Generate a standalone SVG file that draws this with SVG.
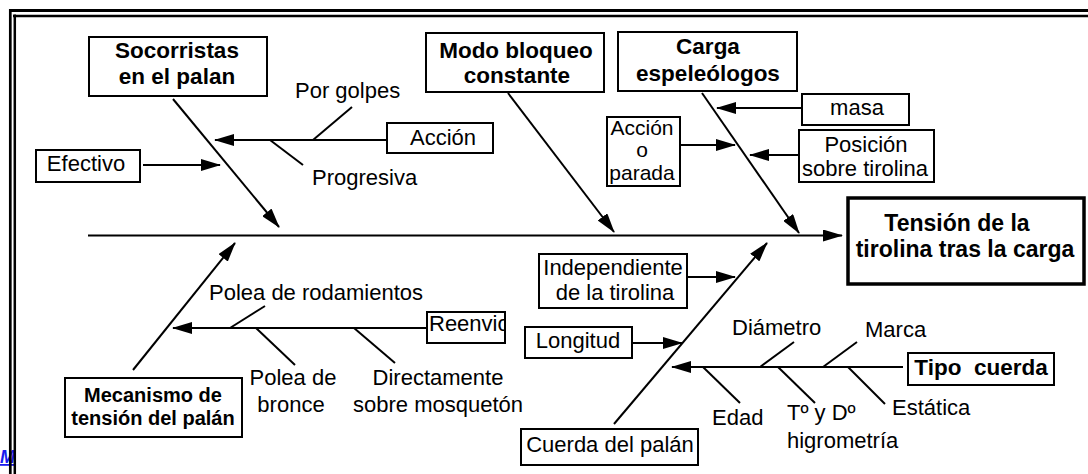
<svg xmlns="http://www.w3.org/2000/svg" width="1088" height="474" viewBox="0 0 1088 474">
<style>
text{font-family:"Liberation Sans",Arial,sans-serif;fill:#000;}
.t{font-size:22px;}
.b{font-size:22.5px;font-weight:bold;}
.m{text-anchor:middle;}
.box{fill:#fff;stroke:#000;stroke-width:2;}
.c line{stroke:#000;stroke-width:2;}
.ar{marker-end:url(#ah);}
</style>
<defs>
<marker id="ah" markerUnits="userSpaceOnUse" markerWidth="20" markerHeight="12" refX="19" refY="6" orient="auto">
<path d="M0,0 L20,6 L0,12 Z" fill="#000"/>
</marker>
<clipPath id="rc"><rect x="428" y="313" width="76" height="29"/></clipPath>
</defs>
<rect width="1088" height="474" fill="#fff"/>
<text x="0" y="463" style="font-size:18px;font-style:italic;font-weight:bold;fill:#1a1aee;text-decoration:underline">M</text>
<g id="frame" stroke="#000">
<line x1="9" y1="10.5" x2="1088" y2="10.5" stroke-width="3"/>
<line x1="13" y1="16" x2="1088" y2="16" stroke-width="2.5"/>
<line x1="10.3" y1="9" x2="10.3" y2="474" stroke-width="2.7"/>
<line x1="14.8" y1="14.5" x2="14.8" y2="474" stroke-width="2.5"/>
</g>
<g id="connectors" class="c">
<line class="ar" x1="88" y1="235.5" x2="842" y2="235.5"/>
<line class="ar" x1="173" y1="99" x2="279" y2="227"/>
<line class="ar" x1="387" y1="140" x2="215" y2="140"/>
<line x1="352" y1="107" x2="313" y2="140"/>
<line x1="270" y1="140" x2="303" y2="165"/>
<line class="ar" x1="143" y1="165" x2="220" y2="165"/>
<line class="ar" x1="508" y1="93" x2="614" y2="232"/>
<line class="ar" x1="702" y1="93" x2="799" y2="233"/>
<line class="ar" x1="802" y1="108" x2="717" y2="108"/>
<line class="ar" x1="799" y1="155" x2="750" y2="155"/>
<line class="ar" x1="680" y1="145" x2="735" y2="145"/>
<line class="ar" x1="133" y1="370" x2="235" y2="243"/>
<line class="ar" x1="427" y1="328" x2="173" y2="328"/>
<line x1="265" y1="306" x2="230" y2="328"/>
<line x1="256" y1="328" x2="295" y2="365"/>
<line x1="354" y1="328" x2="395" y2="363"/>
<line class="ar" x1="614" y1="424" x2="767" y2="243"/>
<line class="ar" x1="687" y1="277" x2="735" y2="277"/>
<line class="ar" x1="632" y1="343" x2="682" y2="343"/>
<line class="ar" x1="903" y1="367" x2="672" y2="367"/>
<line x1="794" y1="342" x2="760" y2="367"/>
<line x1="857" y1="342" x2="823" y2="367"/>
<line x1="703" y1="367" x2="740" y2="403"/>
<line x1="778" y1="367" x2="815" y2="403"/>
<line x1="848" y1="367" x2="885" y2="404"/>
</g>
<g id="n-socorristas"><rect class="box" x="89" y="37" width="178" height="59"/><text class="b m" x="177" y="58">Socorristas</text><text class="b m" x="177" y="84">en el palan</text></g>
<g id="n-modo"><rect class="box" x="426" y="33" width="178" height="59"/><text class="b m" x="516" y="58">Modo bloqueo</text><text class="b m" x="517" y="83">constante</text></g>
<g id="n-carga"><rect class="box" x="618" y="32" width="179" height="59"/><text class="b m" x="708" y="54">Carga</text><text class="b m" x="708" y="81">espeleólogos</text></g>
<g id="n-porgolpes"><text class="t" x="295" y="98">Por golpes</text></g>
<g id="n-accion"><rect class="box" x="387" y="123" width="106" height="30"/><text class="t m" x="443" y="145">Acción</text></g>
<g id="n-progresiva"><text class="t" x="312" y="185">Progresiva</text></g>
<g id="n-efectivo"><rect class="box" x="36" y="150" width="104" height="32"/><text class="t m" x="86" y="171">Efectivo</text></g>
<g id="n-masa"><rect class="box" x="802" y="94" width="107" height="31"/><text class="t m" x="857" y="115">masa</text></g>
<g id="n-posicion"><rect class="box" x="799" y="130" width="135" height="52"/><text class="t m" x="866" y="152">Posición</text><text class="t m" x="865" y="176">sobre tirolina</text></g>
<g id="n-accionparada"><rect class="box" x="607" y="117" width="73" height="69"/><text class="m" x="642" y="135" style="font-size:21px">Acción</text><text class="m" x="642" y="157" style="font-size:21px">o</text><text class="m" x="642" y="180" style="font-size:21px">parada</text></g>
<g id="n-tension"><rect x="848" y="198" width="236" height="86" fill="#fff" stroke="#000" stroke-width="3.5"/><text class="m" x="957" y="231" style="font-size:23px;font-weight:bold">Tensión de la</text><text class="m" x="965" y="257" style="font-size:23px;font-weight:bold">tirolina tras la carga</text></g>
<g id="n-rodamientos"><text class="t" x="209" y="300">Polea de rodamientos</text></g>
<g id="n-reenvio"><rect class="box" x="427" y="312" width="78" height="31"/><text class="t" x="429" y="331" clip-path="url(#rc)">Reenvio</text></g>
<g id="n-bronce"><text class="t m" x="293" y="385">Polea de</text><text class="t m" x="291" y="412">bronce</text></g>
<g id="n-directamente"><text class="t m" x="438" y="385">Directamente</text><text class="t m" x="438" y="412">sobre mosquetón</text></g>
<g id="n-mecanismo"><rect class="box" x="65" y="378" width="177" height="59"/><text class="m" x="153" y="402" style="font-size:20px;font-weight:bold">Mecanismo de</text><text class="m" x="153" y="425" style="font-size:20px;font-weight:bold">tensión del palán</text></g>
<g id="n-independiente"><rect class="box" x="539" y="254" width="148" height="54"/><text class="t m" x="613" y="275">Independiente</text><text class="t m" x="615" y="300">de la tirolina</text></g>
<g id="n-longitud"><rect class="box" x="525" y="327" width="107" height="31"/><text class="t m" x="578" y="348">Longitud</text></g>
<g id="n-cuerdapalan"><rect class="box" x="521" y="429" width="177" height="36"/><text class="t m" x="610" y="452">Cuerda del palán</text></g>
<g id="n-diametro"><text class="t" x="732" y="335">Diámetro</text></g>
<g id="n-marca"><text class="t" x="865" y="337">Marca</text></g>
<g id="n-tipocuerda"><rect class="box" x="908" y="353" width="146" height="32"/><text class="b m" x="981" y="375" style="white-space:pre">Tipo  cuerda</text></g>
<g id="n-edad"><text class="t" x="712" y="425">Edad</text></g>
<g id="n-tyd"><text class="t" x="787" y="420">Tº y Dº</text><text class="t" x="787" y="448">higrometría</text></g>
<g id="n-estatica"><text class="t" x="892" y="415">Estática</text></g>
</svg>
